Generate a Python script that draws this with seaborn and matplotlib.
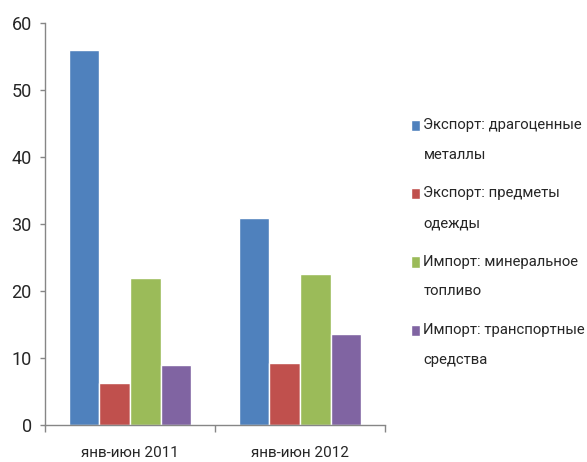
import numpy as np
import pandas as pd
import matplotlib.pyplot as plt
import matplotlib.patches as mpatches
from matplotlib.legend_handler import HandlerPatch
import seaborn as sns

# данные =========================================
periods = ["янв-июн 2011", "янв-июн 2012"]
series = [
    "Экспорт: драгоценные\nметаллы",
    "Экспорт: предметы\nодежды",
    "Импорт: минеральное\nтопливо",
    "Импорт: транспортные\nсредства",
]
values_2011 = [56.0, 6.2, 21.9, 8.9]
values_2012 = [30.9, 9.2, 22.6, 13.6]
colors = ["#4F81BD", "#C0504D", "#9BBB59", "#8064A2"]

rows = []
for s, v in zip(series, values_2011):
    rows.append({"period": periods[0], "series": s, "value": v})
for s, v in zip(series, values_2012):
    rows.append({"period": periods[1], "series": s, "value": v})
df = pd.DataFrame(rows)

sns.set_style("white")
plt.rcParams["font.family"] = ["Roboto", "DejaVu Sans"]

fig = plt.figure(figsize=(5.87, 4.62), dpi=100)
ax = fig.add_axes([45 / 587, 37 / 462, 340 / 587, 402 / 462])

sns.barplot(
    data=df,
    x="period",
    y="value",
    hue="series",
    order=periods,
    hue_order=series,
    palette=colors,
    width=0.72,
    saturation=1,
    ax=ax,
)

ax.set_xlim(-0.5, 1.5)
ax.set_ylim(0, 60)
ax.set_yticks(np.arange(0, 61, 10))
ax.set_xlabel("")
ax.set_ylabel("")
ax.tick_params(axis="y", labelsize=13, length=3.6, width=1, color="#868686", left=True, pad=6)
ax.tick_params(axis="x", labelsize=11, length=0, pad=15)
ax.set_xticks([-0.5, 0.5, 1.5], minor=True)
ax.tick_params(axis="x", which="minor", length=5, width=1, color="#868686", bottom=True)

for side in ["top", "right"]:
    ax.spines[side].set_visible(False)
for side in ["left", "bottom"]:
    ax.spines[side].set_color("#868686")
    ax.spines[side].set_linewidth(1)


# квадратик легенды на уровне первой строки
def square_first_line(legend, orig_handle, xdescent, ydescent, width, height, fontsize):
    return mpatches.Rectangle((-xdescent, -ydescent + 10.8), width, height)


ax.legend(
    loc="upper left",
    bbox_to_anchor=(405 / 587, 0.757),
    bbox_transform=fig.transFigure,
    frameon=False,
    fontsize=10.7,
    handlelength=0.62,
    handleheight=0.8,
    handletextpad=0.22,
    labelspacing=1.66,
    borderaxespad=0,
    handler_map={mpatches.Rectangle: HandlerPatch(patch_func=square_first_line)},
)
for t in ax.get_legend().get_texts():
    t.set_linespacing(2.42)

plt.savefig("out.png", dpi=100)
